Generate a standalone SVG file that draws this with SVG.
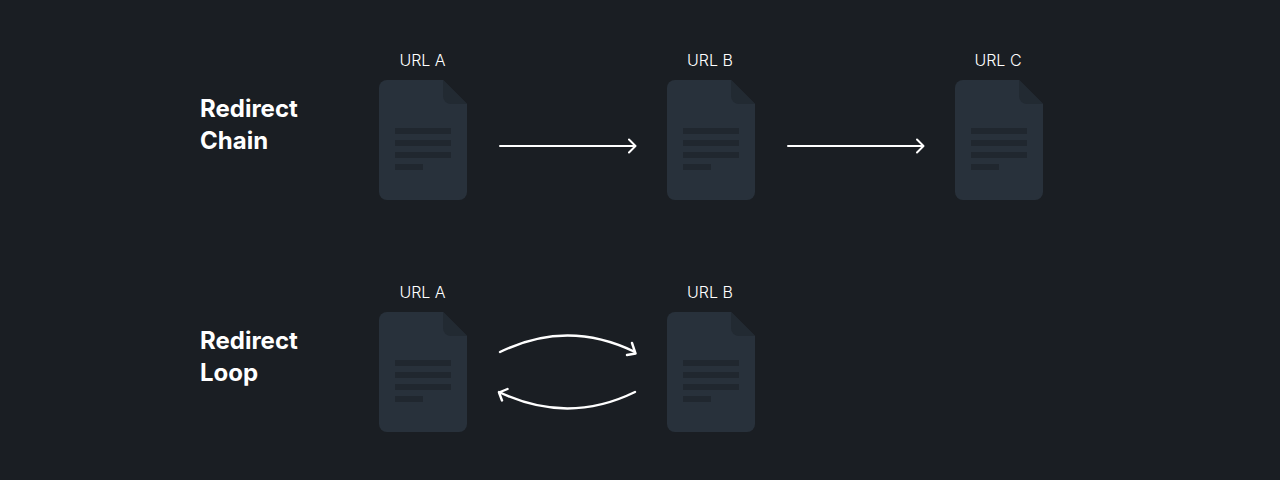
<svg xmlns="http://www.w3.org/2000/svg" width="1280" height="480" viewBox="0 0 1280 480">
<style>
.t{font-family:Inter,"Liberation Sans",sans-serif;font-size:24px;font-weight:700;fill:#fff}
.u{font-family:Inter,"Liberation Sans",sans-serif;font-size:16px;font-weight:350;fill:#fff;text-anchor:middle}
.c{fill:none;stroke:#fff;stroke-width:2;stroke-linecap:round;stroke-linejoin:round}
.c2{stroke-width:2.4}
.body{fill:#28313b}.fold{fill:#222a32}.ln{fill:#20272f}
</style>
<defs>
<g id="doc">
<path class="body" d="M8 0H64L88 24V112a8 8 0 0 1-8 8H8a8 8 0 0 1-8-8V8a8 8 0 0 1 8-8Z"/>
<path class="fold" d="M64 0L88 24H72a8 8 0 0 1-8-8Z"/>
<rect class="ln" x="16" y="48" width="56" height="6"/>
<rect class="ln" x="16" y="60" width="56" height="6"/>
<rect class="ln" x="16" y="72" width="56" height="6"/>
<rect class="ln" x="16" y="84" width="28" height="6"/>
</g>
</defs>
<rect width="1280" height="480" fill="#1a1e23"/>
<g id="title-chain"><text class="t" x="200" y="117">Redirect</text><text class="t" x="200" y="149">Chain</text></g>
<g id="title-loop"><text class="t" x="200" y="349">Redirect</text><text class="t" x="200" y="381">Loop</text></g>
<g id="chain-a"><text class="u" x="422.500" y="66">URL A</text><use href="#doc" x="379" y="80"/></g>
<g id="chain-b"><text class="u" x="710" y="66">URL B</text><use href="#doc" x="667" y="80"/></g>
<g id="chain-c"><text class="u" x="998" y="66">URL C</text><use href="#doc" x="955" y="80"/></g>
<g id="loop-a"><text class="u" x="422.500" y="298">URL A</text><use href="#doc" x="379" y="312"/></g>
<g id="loop-b"><text class="u" x="710" y="298">URL B</text><use href="#doc" x="667" y="312"/></g>
<g id="connectors">
<path class="c" d="M500 146H635M629 139.500L635.500 146L629 152.500"/>
<path class="c" d="M788 146H923M917 139.500L923.500 146L917 152.500"/>
<path class="c c2" d="M500 352C545 330 590 330 635 352M632 343L635.500 353.500L627 355"/>
<path class="c c2" d="M635 392C590 414 545 414 499 392M507.500 389L499 392.500L502 400.500"/>
</g>
</svg>
